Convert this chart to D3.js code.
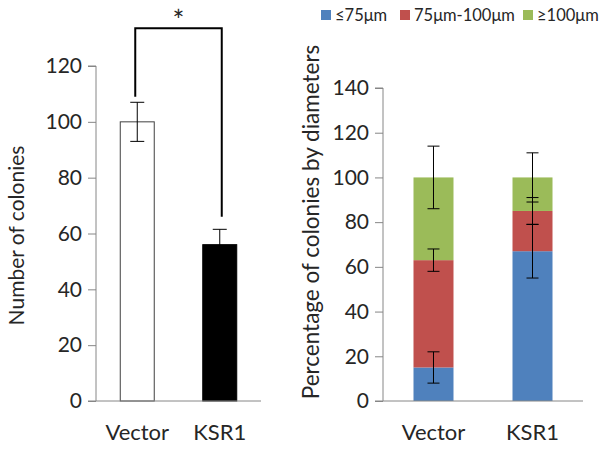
<!DOCTYPE html>
<html><head><meta charset="utf-8">
<script src="https://cdn.jsdelivr.net/npm/d3@7"></script>
<style>body{margin:0;background:#fff}svg{display:block}text{font-family:Lato,"Open Sans",sans-serif;fill:#262626}</style>
</head><body><svg id="c" width="610" height="450"></svg>
<script>
const categories = ["Vector", "KSR1"];
const colonyCounts = [100, 56];
const colonyErrors = [7, 5.5];
const leftTicks = [0, 20, 40, 60, 80, 100, 120];

const sizeClasses = ["≤75μm", "75μm-100μm", "≥100μm"];
const pctSmall = [15, 67];
const pctMid = [48, 18];
const pctLarge = [37, 15];
const errSmall = [7, 12];
const errMid = [5, 6];
const errLarge = [14, 11];
const rightTicks = [0, 20, 40, 60, 80, 100, 120, 140];
const sizeColors = ["#4F81BD", "#C0504D", "#9BBB59"];

const svg = d3.select("#c");
const axisColor = "#868686";

// ---------- Left chart ----------
const L = {x0: 96, x1: 261, y0: 401, y1: 66};
const ly = d3.scaleLinear().domain([0, 120]).range([L.y0, L.y1]);
const lx = d3.scaleBand().domain(categories).range([L.x0, L.x1]).paddingInner(0.588).paddingOuter(0.294);
const lg = svg.append("g");

const lAxis = lg.append("g").attr("transform", `translate(${L.x0},0)`)
  .call(d3.axisLeft(ly).tickValues(leftTicks).tickSize(8).tickPadding(6).tickFormat(d3.format("d")));
lAxis.select(".domain").attr("stroke", axisColor).attr("d", `M-8,${L.y1}H0V${L.y0}`);
lAxis.selectAll(".tick line").attr("stroke", axisColor);
lAxis.selectAll(".tick text").style("font-size", "21px").style("font-family", "Lato,'Open Sans',sans-serif").attr("fill", "#262626");

lg.selectAll("rect.bar").data(categories).join("rect")
  .attr("x", d => lx(d)).attr("width", lx.bandwidth())
  .attr("y", (d, i) => ly(colonyCounts[i])).attr("height", (d, i) => ly(0) - ly(colonyCounts[i]))
  .attr("fill", (d, i) => i === 0 ? "#fff" : "#000")
  .attr("stroke", (d, i) => i === 0 ? "#404040" : "#000").attr("stroke-width", 1);

lg.append("line").attr("x1", L.x0 - 8).attr("x2", L.x1).attr("y1", ly(0)).attr("y2", ly(0)).attr("stroke", axisColor);

categories.forEach((c, i) => {
  const cx = lx(c) + lx.bandwidth() / 2;
  const top = ly(colonyCounts[i] + colonyErrors[i]);
  const bot = ly(colonyCounts[i] - colonyErrors[i]);
  lg.append("line").attr("x1", cx).attr("x2", cx).attr("y1", top).attr("y2", bot).attr("stroke", "#000");
  lg.append("line").attr("x1", cx - 7).attr("x2", cx + 7).attr("y1", top).attr("y2", top).attr("stroke", "#000");
  if (i === 0) lg.append("line").attr("x1", cx - 7).attr("x2", cx + 7).attr("y1", bot).attr("y2", bot).attr("stroke", "#000");
  lg.append("text").attr("x", cx).attr("y", 440).attr("text-anchor", "middle").style("font-size", "22px").text(c);
});

// significance bracket
{
  const xa = lx(categories[0]) + lx.bandwidth() / 2 - 2;
  const xb = lx(categories[1]) + lx.bandwidth() / 2 + 2;
  const yTop = ly(133.5);
  lg.append("path").attr("d", `M${xa},${ly(109)}V${yTop}H${xb}V${ly(66)}`)
    .attr("fill", "none").attr("stroke", "#000").attr("stroke-width", 2);
  lg.append("text").attr("x", (xa + xb) / 2).attr("y", 31).attr("text-anchor", "middle").style("font-size", "28px").attr("fill", "#000").text("*");
}

lg.append("text").attr("transform", `translate(24,${(L.y0 + L.y1) / 2 + 2}) rotate(-90)`)
  .attr("text-anchor", "middle").style("font-size", "21px").text("Number of colonies");

// ---------- Right chart ----------
const R = {x0: 383, x1: 583, y0: 401, y1: 88};
const ry = d3.scaleLinear().domain([0, 140]).range([R.y0, R.y1]);
const rx = d3.scaleBand().domain(categories).range([R.x0, R.x1]).paddingInner(0.596).paddingOuter(0.308);
const rg = svg.append("g");

const rAxis = rg.append("g").attr("transform", `translate(${R.x0},0)`)
  .call(d3.axisLeft(ry).tickValues(rightTicks).tickSize(8).tickPadding(6).tickFormat(d3.format("d")));
rAxis.select(".domain").attr("stroke", axisColor).attr("d", `M-8,${R.y1}H0V${R.y0}`);
rAxis.selectAll(".tick line").attr("stroke", axisColor);
rAxis.selectAll(".tick text").style("font-size", "21px").style("font-family", "Lato,'Open Sans',sans-serif").attr("fill", "#262626");

const stackData = categories.map((c, i) => ({cat: c, s0: pctSmall[i], s1: pctMid[i], s2: pctLarge[i]}));
const series = d3.stack().keys(["s0", "s1", "s2"])(stackData);
const errs = [errSmall, errMid, errLarge];

series.forEach((s, k) => {
  rg.append("g").selectAll("rect").data(s).join("rect")
    .attr("x", d => rx(d.data.cat)).attr("width", rx.bandwidth())
    .attr("y", d => ry(d[1])).attr("height", d => ry(d[0]) - ry(d[1]))
    .attr("fill", sizeColors[k]);
});

rg.append("line").attr("x1", R.x0 - 8).attr("x2", R.x1).attr("y1", ry(0)).attr("y2", ry(0)).attr("stroke", axisColor);

series.forEach((s, k) => {
  s.forEach((d, i) => {
    const cx = rx(d.data.cat) + rx.bandwidth() / 2;
    const top = ry(d[1] + errs[k][i]), bot = ry(d[1] - errs[k][i]);
    rg.append("line").attr("x1", cx).attr("x2", cx).attr("y1", top).attr("y2", bot).attr("stroke", "#000");
    [top, bot].forEach(yv => rg.append("line").attr("x1", cx - 6).attr("x2", cx + 6).attr("y1", yv).attr("y2", yv).attr("stroke", "#000"));
  });
});

categories.forEach(c => {
  rg.append("text").attr("x", rx(c) + rx.bandwidth() / 2).attr("y", 440).attr("text-anchor", "middle").style("font-size", "22px").text(c);
});

rg.append("text").attr("transform", `translate(319,222) rotate(-90)`)
  .attr("text-anchor", "middle").style("font-size", "22.5px").text("Percentage of colonies by diameters");

// legend
const legX = [321, 400, 523];
sizeClasses.forEach((name, k) => {
  rg.append("rect").attr("x", legX[k]).attr("y", 10).attr("width", 10).attr("height", 10).attr("fill", sizeColors[k]);
  rg.append("text").attr("x", legX[k] + 14).attr("y", 21).style("font-size", "16.5px").text(name);
});
</script></body></html>
